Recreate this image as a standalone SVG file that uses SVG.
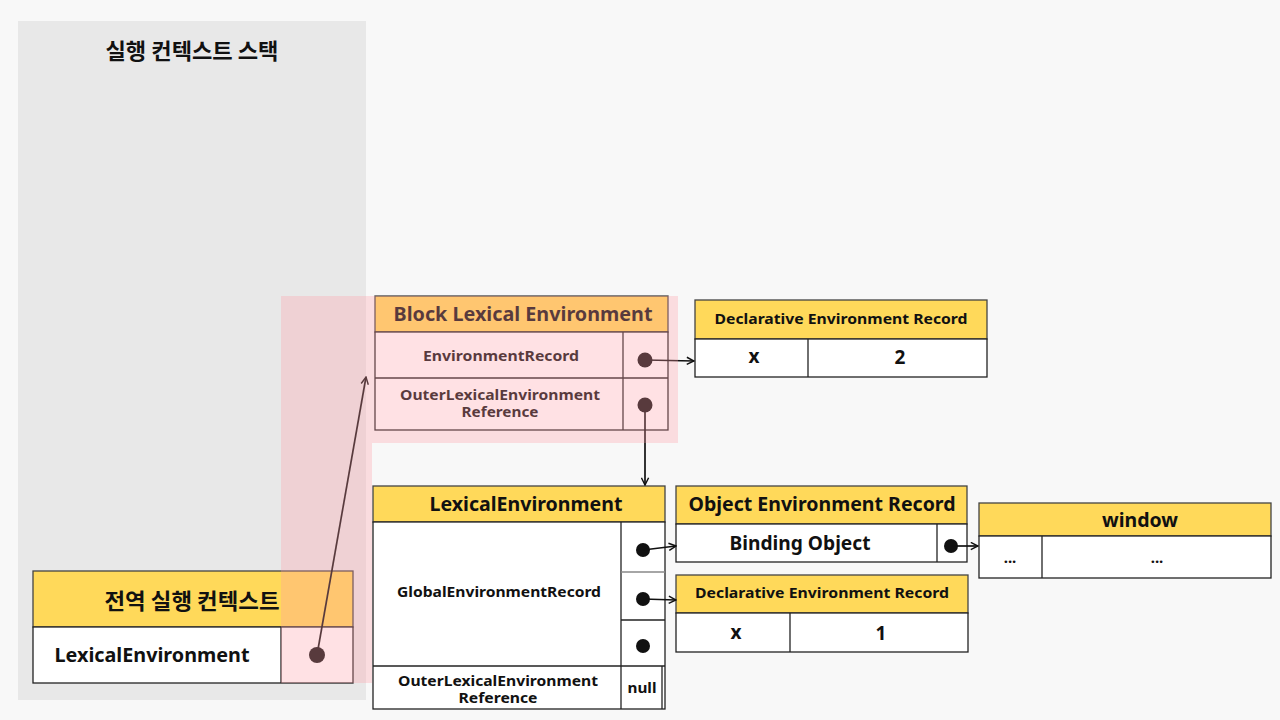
<svg xmlns="http://www.w3.org/2000/svg" width="1280" height="720" viewBox="0 0 1280 720">
<defs>
<style>
text{font-family:"Noto Sans","Noto Sans CJK KR",sans-serif;font-weight:bold;fill:#111;text-anchor:middle}
.kr{font-family:"Noto Sans CJK KR","Noto Sans",sans-serif}
.h19{font-size:19px}
.h15{font-size:15px}
.h14{font-size:14px}
.b{fill:#fff;stroke:#222;stroke-width:1.3}
.hd{fill:#ffd95a;stroke:#444;stroke-width:1.3}
.ln{stroke:#222;stroke-width:1.3;fill:none}
.dot{fill:#111}
.con{stroke:#111;stroke-width:1.7;fill:none;marker-end:url(#ah)}
</style>
<marker id="ah" viewBox="0 0 10 10" refX="9" refY="5" markerWidth="9" markerHeight="9" markerUnits="userSpaceOnUse" orient="auto">
<path d="M1,1 L9,5 L1,9" fill="none" stroke="#111" stroke-width="1.6"/>
</marker>
</defs>
<rect x="0" y="0" width="1280" height="720" fill="#f8f8f8"/>
<g id="stack">
<rect x="18" y="21" width="348" height="679" fill="#e8e8e8"/>
<text class="kr" x="192" y="59" font-size="22" textLength="173" lengthAdjust="spacingAndGlyphs">실행 컨텍스트 스택</text>
</g>
<g id="global-context">
<rect class="hd" x="33" y="571" width="320" height="56"/>
<rect class="b" x="33" y="627" width="320" height="56"/>
<line class="ln" x1="281" y1="627" x2="281" y2="683"/>
<text class="kr" x="192" y="609" font-size="22" textLength="175" lengthAdjust="spacingAndGlyphs">전역 실행 컨텍스트</text>
<text class="h19" x="152" y="662" textLength="195" lengthAdjust="spacingAndGlyphs">LexicalEnvironment</text>
<circle class="dot" cx="317" cy="655" r="8"/>
</g>
<g id="block-lexical-environment">
<rect class="hd" x="375" y="296" width="293" height="36"/>
<rect class="b" x="375" y="332" width="293" height="98"/>
<line class="ln" x1="375" y1="378" x2="668" y2="378"/>
<line class="ln" x1="623" y1="332" x2="623" y2="430"/>
<text class="h19" x="523" y="321" textLength="259" lengthAdjust="spacingAndGlyphs">Block Lexical Environment</text>
<text class="h15" x="501" y="361" textLength="156" lengthAdjust="spacingAndGlyphs">EnvironmentRecord</text>
<text class="h14" x="500" y="400" textLength="200" lengthAdjust="spacingAndGlyphs">OuterLexicalEnvironment</text>
<text class="h14" x="500" y="417" textLength="77" lengthAdjust="spacingAndGlyphs">Reference</text>
<circle class="dot" cx="645" cy="360" r="7.5"/>
<circle class="dot" cx="645" cy="405" r="7.5"/>
</g>
<g id="declarative-record-2">
<rect class="hd" x="695" y="300" width="292" height="39"/>
<rect class="b" x="695" y="339" width="292" height="38"/>
<line class="ln" x1="808" y1="339" x2="808" y2="377"/>
<text class="h15" x="841" y="324" textLength="253" lengthAdjust="spacingAndGlyphs">Declarative Environment Record</text>
<text class="h19" x="754" y="363">x</text>
<text class="h19" x="900" y="364">2</text>
</g>
<g id="lexical-environment">
<rect class="hd" x="373" y="486" width="292" height="36"/>
<rect class="b" x="373" y="522" width="292" height="187"/>
<line class="ln" x1="373" y1="666" x2="665" y2="666"/>
<line class="ln" x1="621" y1="522" x2="621" y2="709"/>
<line x1="621" y1="572" x2="665" y2="572" stroke="#888" stroke-width="1.3"/>
<line class="ln" x1="621" y1="620" x2="665" y2="620"/>
<line class="ln" x1="662" y1="666" x2="662" y2="709"/>
<text class="h19" x="526" y="511" textLength="193" lengthAdjust="spacingAndGlyphs">LexicalEnvironment</text>
<text class="h15" x="499" y="597" textLength="204" lengthAdjust="spacingAndGlyphs">GlobalEnvironmentRecord</text>
<text class="h14" x="498" y="686" textLength="200" lengthAdjust="spacingAndGlyphs">OuterLexicalEnvironment</text>
<text class="h14" x="498" y="703" textLength="79" lengthAdjust="spacingAndGlyphs">Reference</text>
<text class="h15" x="642" y="693" textLength="29" lengthAdjust="spacingAndGlyphs">null</text>
<circle class="dot" cx="643" cy="550" r="7"/>
<circle class="dot" cx="643" cy="599" r="7"/>
<circle class="dot" cx="643" cy="646" r="7"/>
</g>
<g id="object-record">
<rect class="hd" x="676" y="486" width="291" height="38"/>
<rect class="b" x="676" y="524" width="291" height="38"/>
<line class="ln" x1="937" y1="524" x2="937" y2="562"/>
<text class="h19" x="822" y="511" textLength="267" lengthAdjust="spacingAndGlyphs">Object Environment Record</text>
<text class="h19" x="800" y="550" textLength="141" lengthAdjust="spacingAndGlyphs">Binding Object</text>
<circle class="dot" cx="951" cy="546" r="7"/>
</g>
<g id="window">
<rect class="hd" x="979" y="503" width="292" height="33"/>
<rect class="b" x="979" y="536" width="292" height="42"/>
<line class="ln" x1="1042" y1="536" x2="1042" y2="578"/>
<text class="h19" x="1140" y="527" textLength="76" lengthAdjust="spacingAndGlyphs">window</text>
<text class="h15" x="1010" y="563">...</text>
<text class="h15" x="1157" y="563">...</text>
</g>
<g id="declarative-record-1">
<rect class="hd" x="676" y="575" width="292" height="38"/>
<rect class="b" x="676" y="613" width="292" height="39"/>
<line class="ln" x1="790" y1="613" x2="790" y2="652"/>
<text class="h15" x="822" y="598" textLength="254" lengthAdjust="spacingAndGlyphs">Declarative Environment Record</text>
<text class="h19" x="736" y="639">x</text>
<text class="h19" x="881" y="640">1</text>
</g>
<g id="connectors">
<line class="con" x1="317" y1="655" x2="366" y2="377"/>
<line class="con" x1="645" y1="360" x2="694" y2="361"/>
<line class="con" x1="645" y1="405" x2="645" y2="485"/>
<line class="con" x1="643" y1="550" x2="676" y2="546"/>
<line class="con" x1="643" y1="599" x2="676" y2="600"/>
<line class="con" x1="951" y1="546" x2="978" y2="546"/>
</g>
<g id="highlight">
<path d="M281,296 H678 V443 H372 V683 H281 Z" fill="#ff9aa6" fill-opacity="0.3"/>
</g>
</svg>
